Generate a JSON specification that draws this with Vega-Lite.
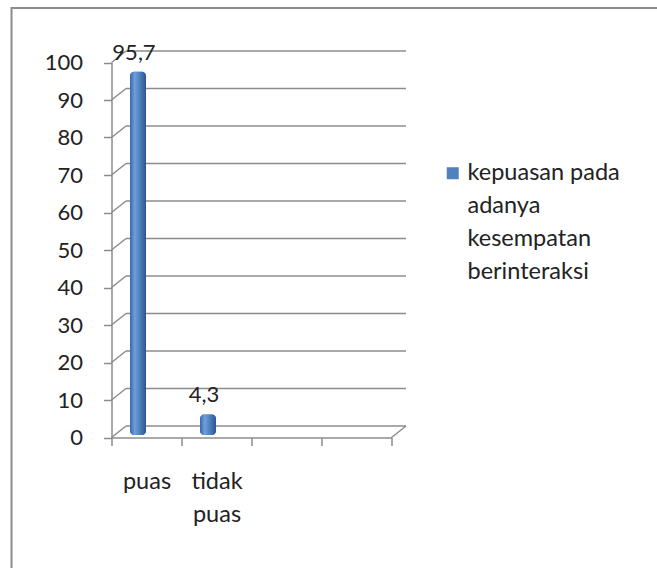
{
  "$schema": "https://vega.github.io/schema/vega-lite/v6.json",
  "width": 645.5,
  "height": 560,
  "autosize": {"type": "none"},
  "padding": {"left": 11.5, "top": 8, "right": 0, "bottom": 0},
  "background": "white",
  "config": {
    "view": {"stroke": "#8c8c8c", "strokeWidth": 2, "strokeDash": [645.5, 1205.5, 560]},
    "locale": {"number": {"decimal": ",", "thousands": ".", "grouping": [3], "currency": ["", ""]}},
    "font": "Lato",
    "style": {"guide-label": {"lineHeight": 33}},
    "axis": {"labelFont": "Lato", "labelFontSize": 23.5, "labelColor": "#222222", "domainColor": "#8c8c8c", "tickColor": "#8c8c8c", "domainWidth": 1.5, "tickWidth": 1.5, "grid": false, "title": null}
  },
  "datasets": {
    "bars": [
      {"kategori": "puas", "nilai": 95.7, "seri": "kepuasan pada adanya kesempatan berinteraksi"},
      {"kategori": "tidak puas", "nilai": 4.3, "seri": "kepuasan pada adanya kesempatan berinteraksi"}
    ],
    "grid": [{"v": 0}, {"v": 10}, {"v": 20}, {"v": 30}, {"v": 40}, {"v": 50}, {"v": 60}, {"v": 70}, {"v": 80}, {"v": 90}, {"v": 100}]
  },
  "layer": [
    {
      "data": {"name": "grid"},
      "mark": {"type": "rule", "stroke": "#8c8c8c", "strokeWidth": 1.5, "xOffset": -20.5, "x2Offset": 49.5, "yOffset": -11.5},
      "encoding": {
        "x": {"datum": "puas", "type": "nominal", "scale": {"domain": ["puas", "tidak puas", "c3", "c4"], "range": [100, 380], "paddingInner": 0, "paddingOuter": 0}, "axis": {"orient": "bottom", "offset": -130.5, "tickBand": "extent", "tickSize": 8, "labelPadding": 23.5, "labelAngle": 0, "labelExpr": "datum.value == 'tidak puas' ? ['tidak', 'puas'] : (datum.value == 'puas' ? 'puas' : '')"}},
        "x2": {"datum": "c4"},
        "y": {"field": "v", "type": "quantitative", "scale": {"domain": [0, 100], "range": [429.5, 54.5], "nice": false, "zero": true}, "axis": {"orient": "left", "offset": -100, "values": [0, 10, 20, 30, 40, 50, 60, 70, 80, 90, 100], "tickSize": 8, "labelPadding": 21, "labelFontSize": 22}}
      }
    },
    {
      "data": {"name": "grid"},
      "mark": {"type": "rule", "stroke": "#8c8c8c", "strokeWidth": 1.5, "xOffset": -35, "x2Offset": -20.5, "y2Offset": -11.5},
      "encoding": {
        "x": {"datum": "puas", "type": "nominal"},
        "x2": {"datum": "puas"},
        "y": {"field": "v", "type": "quantitative"},
        "y2": {"field": "v"}
      }
    },
    {
      "data": {"name": "grid"},
      "transform": [{"filter": "datum.v == 0"}],
      "mark": {"type": "rule", "stroke": "#8c8c8c", "strokeWidth": 1.5, "xOffset": 35, "x2Offset": 49.5, "y2Offset": -11.5},
      "encoding": {
        "x": {"datum": "c4", "type": "nominal"},
        "x2": {"datum": "c4"},
        "y": {"field": "v", "type": "quantitative"},
        "y2": {"field": "v"}
      }
    },
    {
      "data": {"name": "bars"},
      "mark": {"type": "bar", "width": 16, "xOffset": -8.5, "yOffset": -7, "y2Offset": -2.5, "cornerRadius": 4},
      "encoding": {
        "x": {"field": "kategori", "type": "nominal"},
        "y": {"field": "nilai", "type": "quantitative", "stack": null},
        "y2": {"datum": 0},
        "color": {"field": "seri", "type": "nominal", "scale": {"range": ["#4f81bd"]}, "legend": {"orient": "none", "legendX": 429.5, "legendY": 153.5, "title": null, "labelExpr": "['kepuasan pada', 'adanya', 'kesempatan', 'berinteraksi']", "labelFontSize": 23.5, "labelFont": "Lato", "labelColor": "#222222", "labelBaseline": "middle", "labelOffset": 3, "labelLimit": 300, "symbolType": "square", "symbolSize": 144, "symbolStrokeWidth": 0}}
      }
    },
    {
      "data": {"name": "bars"},
      "mark": {"type": "bar", "width": 16, "xOffset": -8.5, "yOffset": -7, "y2Offset": -2.5, "cornerRadius": 4,
        "color": {"gradient": "linear", "x1": 0, "y1": 0, "x2": 1, "y2": 0, "stops": [{"offset": 0, "color": "#3a68a8"}, {"offset": 0.3, "color": "#6f9fdc"}, {"offset": 0.6, "color": "#4f81bd"}, {"offset": 1, "color": "#2c5590"}]}},
      "encoding": {
        "x": {"field": "kategori", "type": "nominal"},
        "y": {"field": "nilai", "type": "quantitative", "stack": null},
        "y2": {"datum": 0}
      }
    },
    {
      "data": {"name": "bars"},
      "mark": {"type": "text", "font": "Lato", "fontSize": 22, "color": "#222222", "baseline": "middle", "align": "center", "xOffset": -12.5, "yOffset": -26},
      "encoding": {
        "x": {"field": "kategori", "type": "nominal"},
        "y": {"field": "nilai", "type": "quantitative"},
        "text": {"field": "nilai", "type": "quantitative", "format": ".1f"}
      }
    }
  ]
}
